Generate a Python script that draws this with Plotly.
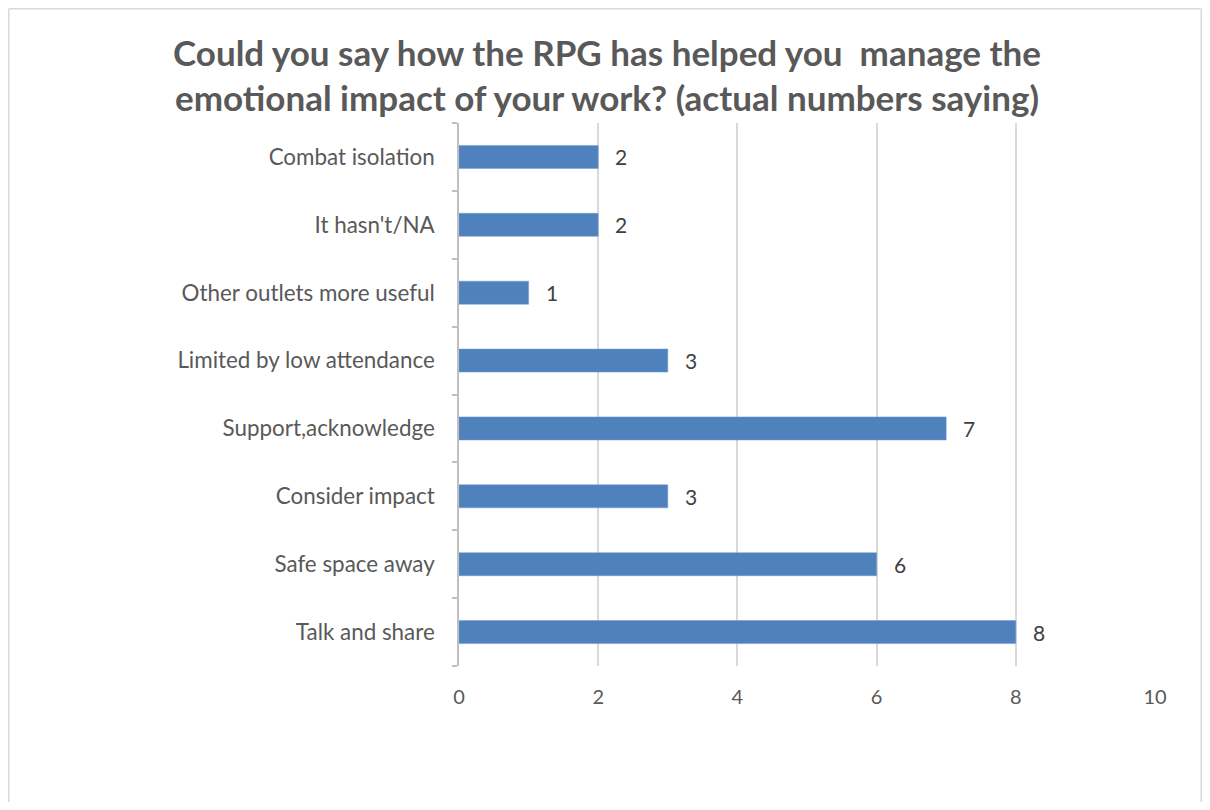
import plotly.graph_objects as go

categories = ["Talk and share", "Safe space away", "Consider impact", "Support,acknowledge",
              "Limited by low attendance", "Other outlets more useful", "It hasn't/NA", "Combat isolation"]
values = [8, 6, 3, 7, 3, 1, 2, 2]
x_ticks = [0, 2, 4, 6, 8, 10]
title_lines = ["Could you say how the RPG has helped you  manage the",
               "emotional impact of your work? (actual numbers saying)"]

FONT = "Lato, Carlito, Calibri, sans-serif"
GRAY = "#595959"

# page body has an 8px margin; lay the figure out so the page fills the window exactly
OFF = 8
FW, FH = 1210 - 2 * OFF, 810 - 2 * OFF
L, R, T, B = 459 - OFF, 1155 - OFF, 123 - OFF, 666 - OFF
W, H = R - L, B - T

fig = go.Figure()
fig.add_trace(go.Bar(
    x=values, y=categories, orientation="h",
    marker=dict(color="#4f81bd", line=dict(color="#6f9bd0", width=0.5)),
    width=0.34, hoverinfo="x+y",
))

for v, c in zip(values, categories):
    fig.add_annotation(x=v, y=c, text=str(v), showarrow=False, xanchor="left",
                       xshift=15, font=dict(family=FONT, size=21, color="#404040"))

def fx(p):  # figure pixel -> paper x
    return (p - L) / W

def fy(p):  # figure pixel -> paper y
    return (B - p) / H

for line, yc in zip(title_lines, [52, 97]):
    fig.add_annotation(xref="paper", yref="paper", x=fx(607 - OFF), y=fy(yc - OFF),
                       text="<b>" + line + "</b>",
                       showarrow=False, xanchor="center", yanchor="middle",
                       font=dict(family=FONT, size=35, color=GRAY))

# Chart frame (left, top, right edges; bottom runs past the window)
frame = dict(color="#d9d9d9", width=1.5)
left, right, top, bottom = fx(0.75), fx(FW - 0.75), fy(0.75), fy(FH + 20)
for x0, y0, x1, y1 in [(left, bottom, left, top), (left, top, right, top), (right, top, right, bottom)]:
    fig.add_shape(type="line", xref="paper", yref="paper", x0=x0, y0=y0, x1=x1, y1=y1,
                  line=frame, layer="below")

fig.update_layout(
    width=FW, height=FH,
    margin=dict(l=L, r=FW - R, t=T, b=FH - B),
    paper_bgcolor="white", plot_bgcolor="white",
    showlegend=False,
    font=dict(family=FONT, color=GRAY),
    xaxis=dict(range=[0, 10], tickvals=x_ticks, showgrid=True, gridcolor="#d9d9d9", gridwidth=1.5,
               zeroline=False, showline=False, ticks="", tickfont=dict(size=20, color=GRAY),
               ticklabelstandoff=17, fixedrange=True, automargin=False),
    yaxis=dict(type="category", categoryorder="array", categoryarray=categories,
               showline=True, linecolor="#bfbfbf", linewidth=1.5, ticks="outside", ticklen=5,
               tickcolor="#bfbfbf", tickwidth=1.5, tickson="boundaries", showgrid=False,
               tickfont=dict(size=22.4, color=GRAY), ticklabelstandoff=18, fixedrange=True,
               automargin=False),
)

fig.write_html("out.html")
